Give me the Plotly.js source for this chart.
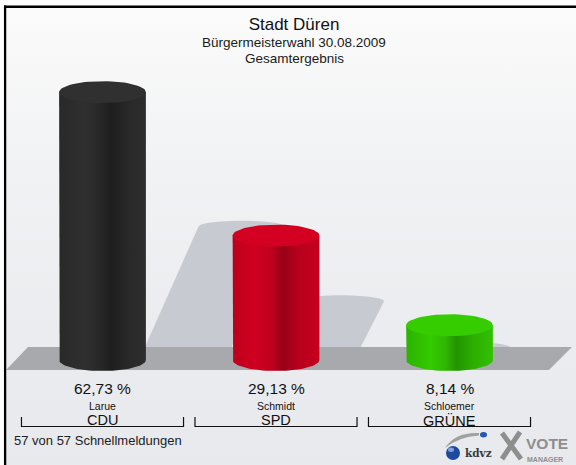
<!DOCTYPE html>
<html>
<head>
<meta charset="utf-8">
<script src="https://cdn.plot.ly/plotly-3.0.1.min.js"></script>
<style>html,body{margin:0;padding:0;background:#fff;}#chart{width:576px;height:465px;}</style>
</head>
<body>
<div id="chart"></div>
<script>
// ---- data ----
const parties = ['CDU', 'SPD', 'GRÜNE'];
const candidates = ['Larue', 'Schmidt', 'Schloemer'];
const shares = [62.73, 29.13, 8.14];
const titleText = 'Stadt Düren';
const subtitle1 = 'Bürgermeisterwahl 30.08.2009';
const subtitle2 = 'Gesamtergebnis';
const statusText = '57 von 57 Schnellmeldungen';

// ---- styles ----
const bodyScales = [
  [[0,'#292929'],[0.3,'#2f2f2f'],[0.48,'#272727'],[0.6,'#1e1e1e'],[0.78,'#282828'],[1,'#2d2d2d']],
  [[0,'#bb001b'],[0.25,'#d00021'],[0.45,'#bf001d'],[0.58,'#970017'],[0.75,'#b7001c'],[1,'#c6001e']],
  [[0,'#2cb200'],[0.28,'#34ca00'],[0.45,'#2fb800'],[0.58,'#229400'],[0.76,'#2cad00'],[1,'#31c100']]
];
const topColors = ['#303030', '#d40022', '#35cc00'];
const W = 576, H = 465;
const X_RANGE = [-0.5908, 2.7291];
const Y_RANGE = [-24.59, 84.31];
const xPerPx = (X_RANGE[1] - X_RANGE[0]) / W;
const yPerPx = (Y_RANGE[1] - Y_RANGE[0]) / H;
const px2x = p => X_RANGE[0] + p * xPerPx;
const py2y = p => Y_RANGE[1] - p * yPerPx;
const pp = (px, py) => [px / W, 1 - py / H]; // pixel -> paper
const HW = 0.25;            // half bar width (x units)
const E = 11 * yPerPx;      // ellipse half height (y units)
const FONT = 'Liberation Sans, Arial, sans-serif';

const traces = [];
const shapes = [];

// shadows (decoration, derived from data)
shares.forEach((v, i) => {
  const hs = 0.52 * v;
  const hpx = hs / yPerPx;
  const topShift = 1.0 * hpx * xPerPx;
  const botShift = 0.6 * hpx * xPerPx;
  const yb = py2y(352);
  const r = 6 * yPerPx;
  const cx = i + topShift;
  let d = `M ${i - HW + botShift} ${yb} L ${i + HW + botShift} ${yb} L ${i + HW + topShift} ${hs - r}`;
  for (let k = 1; k <= 24; k++) {
    const t = Math.PI * k / 24;
    d += ` L ${cx + HW * Math.cos(t)} ${hs - r + r * Math.sin(t)}`;
  }
  d += ' Z';
  shapes.push({type: 'path', xref: 'x', yref: 'y', path: d, fillcolor: '#c7cad0', line: {width: 0}, layer: 'below'});
});

// floor
(function () {
  const pts = [[28, 347], [572, 347], [549, 370], [6, 370]];
  const d = 'M ' + pts.map(p => `${px2x(p[0])} ${py2y(p[1])}`).join(' L ') + ' Z';
  shapes.push({type: 'path', xref: 'x', yref: 'y', path: d, fillcolor: '#a8a9ad', line: {width: 0}, layer: 'below'});
})();

// cylinder bodies
shares.forEach((v, i) => {
  const xs = [i - HW, i - HW], ys = [v, 0];
  const N = 40;
  for (let k = 0; k <= N; k++) {
    const t = Math.PI - Math.PI * k / N;
    xs.push(i + HW * Math.cos(t));
    ys.push(-E * Math.sin(t));
  }
  xs.push(i + HW); ys.push(v);
  traces.push({
    type: 'scatter', mode: 'lines', x: xs, y: ys, fill: 'toself',
    fillcolor: topColors[i],
    fillgradient: {type: 'horizontal', colorscale: bodyScales[i]},
    line: {width: 0}, hoverinfo: 'skip', name: parties[i]
  });
});

// cylinder tops
shares.forEach((v, i) => {
  const xs = [], ys = [];
  const N = 60;
  for (let k = 0; k <= N; k++) {
    const t = 2 * Math.PI * k / N;
    xs.push(i + HW * Math.cos(t));
    ys.push(v + E * Math.sin(t));
  }
  traces.push({
    type: 'scatter', mode: 'lines', x: xs, y: ys, fill: 'toself',
    fillcolor: topColors[i], line: {width: 0}, hoverinfo: 'skip', name: parties[i] + ' top'
  });
});

const ann = [];
const py2p = py => 1 - py / H;
ann.push({text: subtitle1, xref: 'paper', yref: 'paper', x: 294 / W, y: py2p(42), xanchor: 'center', yanchor: 'middle', showarrow: false, font: {family: FONT, size: 13.5, color: '#1a1a1a'}});
ann.push({text: subtitle2, xref: 'paper', yref: 'paper', x: 294 / W, y: py2p(58), xanchor: 'center', yanchor: 'middle', showarrow: false, font: {family: FONT, size: 13.5, color: '#1a1a1a'}});

parties.forEach((p, i) => {
  const lbl = shares[i].toFixed(2).replace('.', ',') + ' %';
  ann.push({text: lbl, xref: 'x', yref: 'paper', x: i, y: py2p(388), xanchor: 'center', yanchor: 'middle', showarrow: false, font: {family: FONT, size: 15.5, color: '#111'}});
  ann.push({text: candidates[i], xref: 'x', yref: 'paper', x: i, y: py2p(406), xanchor: 'center', yanchor: 'middle', showarrow: false, font: {family: FONT, size: 10.5, color: '#111'}});
  ann.push({text: p, xref: 'x', yref: 'paper', x: i, y: py2p(420), xanchor: 'center', yanchor: 'middle', showarrow: false, font: {family: FONT, size: 14.5, color: '#111'}});
  // bracket
  const a = i - 0.467, b = i + 0.467;
  shapes.push({type: 'path', xref: 'x', yref: 'paper',
    path: `M ${a} ${py2p(417)} L ${a} ${py2p(426.5)} L ${b} ${py2p(426.5)} L ${b} ${py2p(417)}`,
    line: {color: '#111', width: 1.2}, layer: 'above'});
});

ann.push({text: statusText, xref: 'paper', yref: 'paper', x: 12 / W, y: py2p(440), xanchor: 'left', yanchor: 'middle', showarrow: false, font: {family: FONT, size: 13, color: '#222'}});

// logos (decoration)
const P = (x, y) => { const q = pp(x, y); return `${q[0]} ${q[1]}`; };
shapes.push({type: 'path', xref: 'paper', yref: 'paper', path: `M ${P(479, 433)} Q ${P(455, 432)} ${P(445, 448)} Q ${P(458, 437)} ${P(479, 435.5)} Z`, fillcolor: '#a0a0a0', line: {width: 0}, layer: 'above'});
shapes.push({type: 'circle', xref: 'paper', yref: 'paper', x0: 446 / W, x1: 460 / W, y0: py2p(460), y1: py2p(446), fillcolor: '#1d4a9e', line: {width: 0}, layer: 'above'});
shapes.push({type: 'circle', xref: 'paper', yref: 'paper', x0: 448 / W, x1: 454 / W, y0: py2p(452), y1: py2p(447.5), fillcolor: '#7fa3dd', line: {width: 0}, layer: 'above'});
shapes.push({type: 'circle', xref: 'paper', yref: 'paper', x0: 480 / W, x1: 487 / W, y0: py2p(437.5), y1: py2p(432), fillcolor: '#2657b0', line: {width: 0}, layer: 'above'});
shapes.push({type: 'path', xref: 'paper', yref: 'paper', path: `M ${P(502, 433)} L ${P(521, 459)} M ${P(520, 432)} L ${P(502, 459)}`, line: {color: '#8e8e8e', width: 5}, layer: 'above'});
ann.push({text: '<b>kdvz</b>', xref: 'paper', yref: 'paper', x: 463 / W, y: py2p(453), xanchor: 'left', yanchor: 'middle', showarrow: false, font: {family: 'DejaVu Serif, serif', size: 10.5, color: '#3a3a3a'}});
ann.push({text: '<b>VOTE</b>', xref: 'paper', yref: 'paper', x: 524 / W, y: py2p(443), xanchor: 'left', yanchor: 'middle', showarrow: false, font: {family: FONT, size: 15.5, color: '#8e8e8e'}});
ann.push({text: '<b>MANAGER</b>', xref: 'paper', yref: 'paper', x: 525 / W, y: py2p(459.5), xanchor: 'left', yanchor: 'middle', showarrow: false, font: {family: FONT, size: 7, color: '#8e8e8e'}});

// borders
shapes.push({type: 'line', xref: 'paper', yref: 'paper', x0: 4 / W, x1: 1, y0: py2p(6.8), y1: py2p(6.8), line: {color: '#000', width: 2.6}, layer: 'above'});
shapes.push({type: 'line', xref: 'paper', yref: 'paper', x0: 5.1 / W, x1: 5.1 / W, y0: py2p(5.5), y1: 0, line: {color: '#000', width: 2.3}, layer: 'above'});

// background gradient image
const svg = "<svg xmlns='http://www.w3.org/2000/svg' width='100' height='100' viewBox='0 0 100 100' preserveAspectRatio='none'>" +
  "<defs><linearGradient id='g' x1='0' y1='0' x2='0' y2='1'>" +
  "<stop offset='0' stop-color='#fbfbfb'/><stop offset='0.35' stop-color='#f1f2f4'/><stop offset='0.7' stop-color='#eaecef'/><stop offset='1' stop-color='#e7e9ed'/>" +
  "</linearGradient></defs><rect x='0' y='0' width='100' height='100' fill='url(#g)'/></svg>";
const bgImg = 'data:image/svg+xml;charset=utf-8,' + encodeURIComponent(svg);

const layout = {
  width: W, height: H,
  margin: {l: 0, r: 0, t: 0, b: 0, pad: 0},
  paper_bgcolor: '#ffffff', plot_bgcolor: 'rgba(0,0,0,0)',
  showlegend: false,
  title: {text: titleText, x: 294 / W, xanchor: 'center', xref: 'paper', y: py2p(24), yref: 'paper', yanchor: 'middle', font: {family: FONT, size: 17, color: '#111'}},
  xaxis: {range: X_RANGE, visible: false, fixedrange: true},
  yaxis: {range: Y_RANGE, visible: false, fixedrange: true},
  images: [{source: bgImg, xref: 'paper', yref: 'paper', x: 6 / W, y: py2p(8), sizex: 1, sizey: 1, xanchor: 'left', yanchor: 'top', sizing: 'stretch', layer: 'below'}],
  shapes: shapes,
  annotations: ann
};

Plotly.newPlot('chart', traces, layout, {displayModeBar: false, staticPlot: true});
</script>
</body>
</html>
